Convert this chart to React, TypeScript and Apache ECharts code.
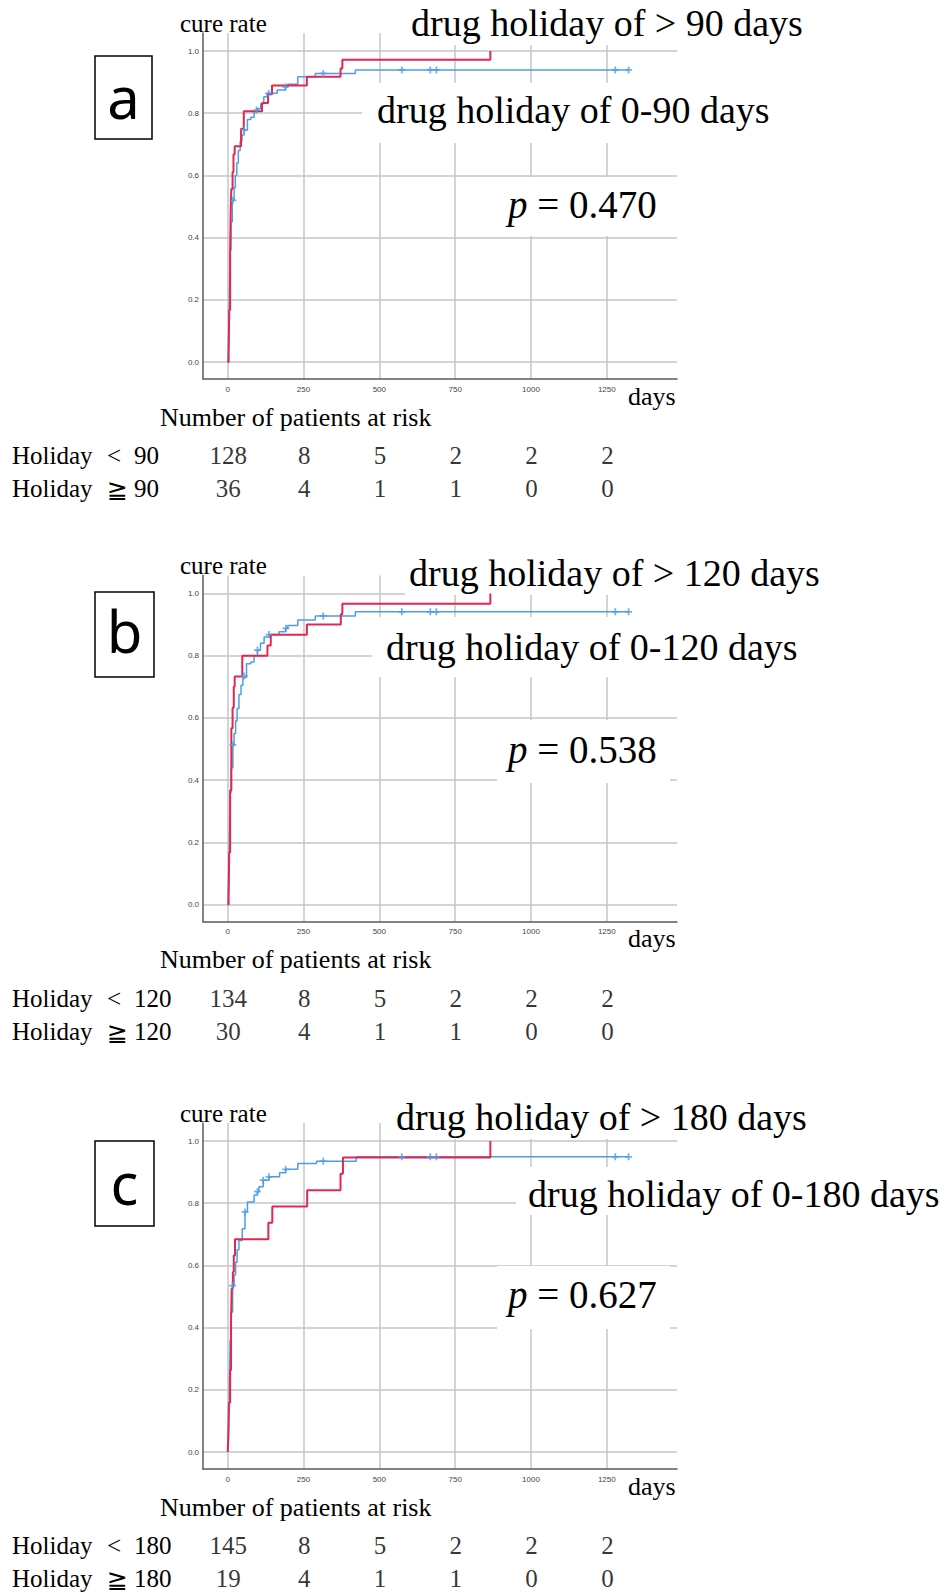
import React, { useEffect, useRef } from "react";
import * as echarts from "echarts";

// ---------------- data ----------------
const xTickValues = [0, 250, 500, 750, 1000, 1250];
const yTickValues = [0, 0.2, 0.4, 0.6, 0.8, 1.0];
const riskTimes = [0, 250, 500, 750, 1000, 1250];

const panelLetters = ["a", "b", "c"];
const cutoffs = ["90", "120", "180"];
const pValues = ["0.470", "0.538", "0.627"];

// panel a: drug holiday 0-90 (blue) vs > 90 (red)
const blueA: [number, number][] = [
  [0, 0], [2, 0.02], [4, 0.12], [6, 0.25], [8, 0.36], [11, 0.45], [15, 0.52], [21, 0.56], [25, 0.6],
  [30, 0.64], [35, 0.68], [41, 0.71], [47, 0.73], [54, 0.746], [65, 0.78], [76, 0.787], [87, 0.805],
  [98, 0.815], [109, 0.83], [119, 0.853], [130, 0.864], [163, 0.875], [191, 0.885], [198, 0.893],
  [231, 0.917], [289, 0.928], [421, 0.939], [1322, 0.939],
];
const redA: [number, number][] = [
  [0, 0], [3, 0.028], [5, 0.167], [8, 0.361], [10, 0.5], [12, 0.556], [16, 0.611], [19, 0.667],
  [23, 0.694], [44, 0.75], [53, 0.806], [113, 0.833], [133, 0.861], [146, 0.889], [261, 0.917],
  [372, 0.944], [378, 0.972], [866, 1.0],
];
const censorA: [number, number][] = [
  [17, 0.52], [54, 0.746], [95, 0.81], [135, 0.864], [190, 0.885], [315, 0.928],
  [574, 0.939], [668, 0.939], [688, 0.939], [1278, 0.939], [1322, 0.939],
];
const riskLowA = [128, 8, 5, 2, 2, 2];
const riskHighA = [36, 4, 1, 1, 0, 0];

// panel b: 0-120 (blue) vs > 120 (red)
const blueB: [number, number][] = [
  [0, 0], [2, 0.02], [4, 0.12], [6, 0.25], [8, 0.36], [11, 0.44], [17, 0.513], [21, 0.55], [26, 0.59],
  [31, 0.63], [37, 0.675], [44, 0.705], [50, 0.73], [62, 0.774], [76, 0.78], [87, 0.8], [98, 0.818],
  [108, 0.84], [120, 0.86], [136, 0.868], [169, 0.877], [191, 0.888], [198, 0.897], [231, 0.915],
  [289, 0.928], [421, 0.941], [1322, 0.941],
];
const redB: [number, number][] = [
  [0, 0], [3, 0.033], [5, 0.167], [8, 0.367], [12, 0.567], [16, 0.633], [20, 0.7], [23, 0.733],
  [48, 0.8], [131, 0.833], [142, 0.867], [261, 0.9], [373, 0.933], [378, 0.967], [866, 1.0],
];
const censorB: [number, number][] = [
  [17, 0.513], [54, 0.735], [98, 0.818], [136, 0.868], [192, 0.888], [315, 0.928],
  [574, 0.941], [668, 0.941], [688, 0.941], [1278, 0.941], [1322, 0.941],
];
const riskLowB = [134, 8, 5, 2, 2, 2];
const riskHighB = [30, 4, 1, 1, 0, 0];

// panel c: 0-180 (blue) vs > 180 (red)
const blueC: [number, number][] = [
  [0, 0], [2, 0.02], [4, 0.12], [6, 0.25], [8, 0.36], [11, 0.45], [16, 0.535], [21, 0.57], [26, 0.61],
  [31, 0.65], [37, 0.68], [48, 0.718], [57, 0.772], [65, 0.804], [87, 0.826], [98, 0.837], [103, 0.853],
  [117, 0.874], [136, 0.885], [171, 0.898], [191, 0.909], [231, 0.928], [293, 0.935], [424, 0.949],
  [1322, 0.949],
];
const redC: [number, number][] = [
  [0, 0], [2, 0.053], [4, 0.158], [8, 0.263], [11, 0.421], [13, 0.526], [17, 0.579], [20, 0.632],
  [24, 0.684], [134, 0.737], [147, 0.789], [262, 0.842], [372, 0.895], [380, 0.947], [866, 1.0],
];
const censorC: [number, number][] = [
  [16, 0.535], [57, 0.772], [98, 0.837], [117, 0.874], [136, 0.885], [191, 0.909], [315, 0.935],
  [574, 0.949], [668, 0.949], [688, 0.949], [1278, 0.949], [1322, 0.949],
];
const riskLowC = [145, 8, 5, 2, 2, 2];
const riskHighC = [19, 4, 1, 1, 0, 0];

// ---------------- layout ----------------
const BLUE = "#4f9de6";
const RED = "#e3284f";
const SERIF = '"Liberation Serif", "Times New Roman", "Noto Sans CJK JP", "DejaVu Serif", serif';
const SANS = '"Liberation Sans", Arial, sans-serif';

const X_MIN = -81.5;
const X_MAX = 1481.5;
const Y_MIN = -17 / 311;
const Y_MAX = 1 + 18 / 311;

const LAYOUT = [
  { dy: 0, box: [95, 56, 57, 83], letterDy: 0, title: [411, 36], label2: [377, 123], mask2: [362, 83, 330, 60], p: [508, 218], pMask: [497, 177, 173, 59] },
  { dy: 542.5, box: [95, 592, 59, 85], letterDy: -3, title: [409, 586], label2: [386, 660], mask2: [372, 617, 320, 60], p: [508, 763], pMask: [497, 720, 173, 63] },
  { dy: 1090, box: [95, 1141, 59, 85], letterDy: 0, title: [396, 1130], label2: [528, 1207], mask2: [516, 1167, 180, 48], p: [508, 1308], pMask: [497, 1266, 173, 63] },
];

function txt(x: number, baseline: number, text: string, size: number, extra: any = {}) {
  return {
    type: "text",
    x,
    y: baseline - 0.34 * size,
    z: 20,
    style: {
      text,
      fill: "#000",
      fontSize: size,
      fontFamily: SERIF,
      align: "left",
      verticalAlign: "middle",
      textAlign: "left",
      textVerticalAlign: "middle",
      ...extra,
    },
  };
}

function whiteRect(x: number, y: number, w: number, h: number) {
  return { type: "rect", z: 1, shape: { x, y, width: w, height: h }, style: { fill: "#ffffff" } };
}

function buildOption() {
  const panels = [
    { blue: blueA, red: redA, censor: censorA, low: riskLowA, high: riskHighA },
    { blue: blueB, red: redB, censor: censorB, low: riskLowB, high: riskHighB },
    { blue: blueC, red: redC, censor: censorC, low: riskLowC, high: riskHighC },
  ];
  const grid: any[] = [];
  const xAxis: any[] = [];
  const yAxis: any[] = [];
  const series: any[] = [];
  const elements: any[] = [];

  const axisLineStyle = { color: "#5a5a5a", width: 1.5 };
  const splitStyle = { color: "#c6c6c6", width: 1.5 };

  panels.forEach((pd, i) => {
    const L = LAYOUT[i];
    grid.push({ left: 203, top: 33 + L.dy, width: 474, height: 346, containLabel: false, outerBoundsMode: "none" });
    xAxis.push({
      type: "value", gridIndex: i, min: X_MIN, max: X_MAX,
      axisLine: { show: true, onZero: false, lineStyle: axisLineStyle },
      axisTick: { show: false, customValues: xTickValues },
      axisLabel: {
        customValues: xTickValues, fontSize: 8, color: "#444", margin: 6, fontFamily: SANS,
        formatter: (v: number) => String(v),
      },
      splitLine: { show: true, lineStyle: splitStyle },
    });
    yAxis.push({
      type: "value", gridIndex: i, min: Y_MIN, max: Y_MAX,
      axisLine: { show: true, onZero: false, lineStyle: axisLineStyle },
      axisTick: { show: false, customValues: yTickValues },
      axisLabel: {
        customValues: yTickValues, fontSize: 8, color: "#444", margin: 4, fontFamily: SANS,
        formatter: (v: number) => v.toFixed(1),
      },
      splitLine: { show: true, lineStyle: splitStyle },
    });
    series.push({
      type: "line", xAxisIndex: i, yAxisIndex: i, data: pd.blue, step: "end", showSymbol: false,
      lineStyle: { color: BLUE, width: 1.5 }, z: 3, silent: true,
    });
    series.push({
      type: "line", xAxisIndex: i, yAxisIndex: i, data: pd.red, step: "end", showSymbol: false,
      lineStyle: { color: RED, width: 2 }, z: 4, silent: true,
    });
    series.push({
      type: "scatter", xAxisIndex: i, yAxisIndex: i, data: pd.censor,
      symbol: "path://M3,0H5V3H8V5H5V8H3V5H0V3H3Z", symbolSize: 7,
      itemStyle: { color: BLUE }, z: 5, silent: true,
    });
  });

  // risk tables
  panels.forEach((pd, i) => {
    const L = LAYOUT[i];
    const gi = 3 + i;
    grid.push({ left: 203, top: 439 + L.dy, width: 474, height: 66, containLabel: false, outerBoundsMode: "none" });
    xAxis.push({ type: "value", gridIndex: gi, min: X_MIN, max: X_MAX, show: false });
    yAxis.push({ type: "category", gridIndex: gi, data: ["low", "high"], inverse: true, show: false });
    const data: any[] = [];
    riskTimes.forEach((t, k) => {
      data.push([t + 2, 0, pd.low[k]]);
      data.push([t + 2, 1, pd.high[k]]);
    });
    series.push({
      type: "scatter", xAxisIndex: gi, yAxisIndex: gi, data, symbolSize: 0, silent: true,
      label: {
        show: true, position: "inside", fontSize: 25, fontFamily: SERIF, color: "#000",
        formatter: (p: any) => String(p.value[2]),
      },
    });
  });

  // texts and boxes
  panels.forEach((_pd, i) => {
    const L = LAYOUT[i];
    const dy = L.dy;
    const cut = cutoffs[i];
    const [bx, by, bw, bh] = L.box;
    elements.push({
      type: "rect", z: 20, shape: { x: bx, y: by, width: bw, height: bh },
      style: { fill: "#fff", stroke: "#000", lineWidth: 1.5 },
    });
    elements.push({
      type: "text", x: bx + bw / 2, y: by + bh / 2 - 1 + L.letterDy, z: 21,
      style: {
        text: panelLetters[i], fill: "#000", fontSize: 58, fontFamily: '"Noto Sans", "Open Sans", sans-serif',
        align: "center", verticalAlign: "middle", textAlign: "center", textVerticalAlign: "middle",
      },
    });
    elements.push(txt(180, 31.5 + dy, "cure rate", 25));

    const title = `drug holiday of > ${cut} days`;
    const label2 = `drug holiday of 0-${cut} days`;
    elements.push(whiteRect(L.title[0] - 4, L.title[1] - 28, 420, 37));
    elements.push(txt(L.title[0], L.title[1], title, 38));
    const [mx, my, mw, mh] = L.mask2;
    elements.push(whiteRect(mx, my, mw, mh));
    elements.push(txt(L.label2[0], L.label2[1], label2, 38));
    const [px, py, pw, ph] = L.pMask;
    elements.push(whiteRect(px, py, pw, ph));
    elements.push({
      type: "text", x: L.p[0], y: L.p[1] - 0.34 * 39, z: 20,
      style: {
        text: `{i|p} = ${pValues[i]}`, fill: "#000", fontSize: 39, fontFamily: SERIF,
        align: "left", verticalAlign: "middle", textAlign: "left", textVerticalAlign: "middle",
        rich: { i: { fontStyle: "italic", fontSize: 39, fontFamily: SERIF, fill: "#000" } },
      },
    });

    elements.push(txt(628, 405 + dy, "days", 26));
    elements.push(txt(160, 426 + dy, "Number of patients at risk", 26));

    const rows = [464 + dy, 497 + dy];
    const syms = ["<", "≧"];
    rows.forEach((yb, r) => {
      elements.push(txt(12, yb, "Holiday", 25));
      if (r === 0) {
        elements.push(txt(107, yb, syms[r], 25));
      } else {
        elements.push(txt(107, yb + 1, syms[r], 25, { fontFamily: '"DejaVu Serif", "DejaVu Sans", serif' }));
      }
      elements.push(txt(134, yb, cut, 25));
    });
  });

  return {
    animation: false,
    backgroundColor: "#ffffff",
    grid,
    xAxis,
    yAxis,
    series,
    graphic: { elements },
  };
}

export default function App() {
  const ref = useRef<HTMLDivElement>(null);
  useEffect(() => {
    if (!ref.current) return;
    const chart = echarts.init(ref.current, undefined, { renderer: "svg" });
    chart.setOption(buildOption() as any);
    return () => chart.dispose();
  }, []);
  return (
    <div
      ref={ref}
      style={{ position: "absolute", left: 0, top: 0, width: 947, height: 1593, background: "#fff" }}
    />
  );
}
